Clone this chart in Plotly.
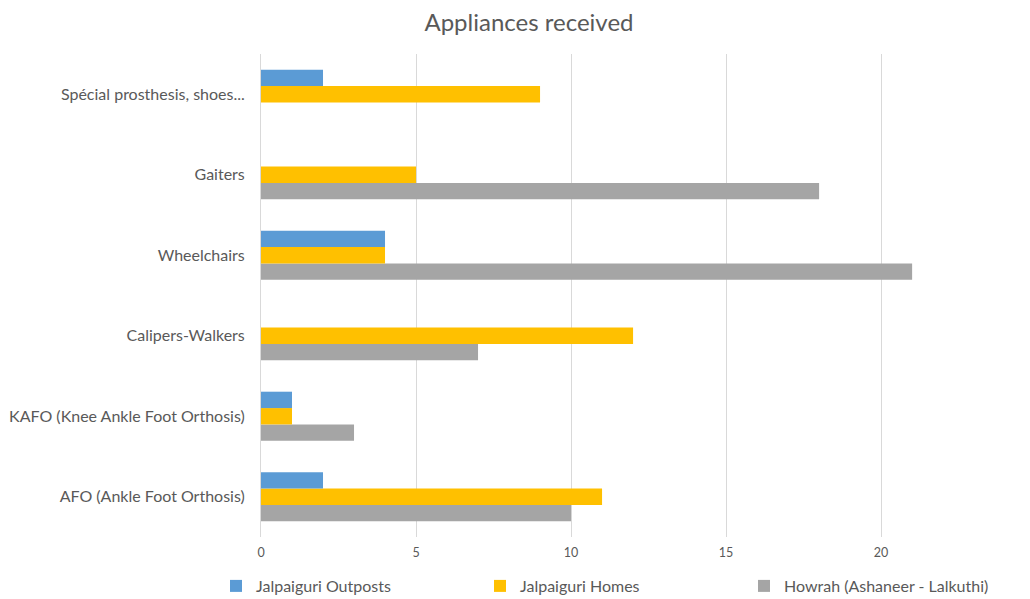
import plotly.graph_objects as go

categories = [
    "AFO (Ankle Foot Orthosis)",
    "KAFO (Knee Ankle Foot Orthosis)",
    "Calipers-Walkers",
    "Wheelchairs",
    "Gaiters",
    "Spécial prosthesis, shoes...",
]
outposts = [2, 1, 0, 4, 0, 2]
homes = [11, 1, 12, 4, 5, 9]
howrah = [10, 3, 7, 21, 18, 0]
x_ticks = [0, 5, 10, 15, 20, 25]

font_family = "Lato, Open Sans, sans-serif"
text_color = "#595959"

fig = go.Figure()
# Added bottom-to-top within each group (plotly places first trace lowest for horizontal bars)
fig.add_trace(go.Bar(y=categories, x=howrah, orientation="h", name="Howrah (Ashaneer - Lalkuthi)",
                     marker=dict(color="#a5a5a5", line=dict(width=0))))
fig.add_trace(go.Bar(y=categories, x=homes, orientation="h", name="Jalpaiguri Homes",
                     marker=dict(color="#ffc000", line=dict(width=0))))
fig.add_trace(go.Bar(y=categories, x=outposts, orientation="h", name="Jalpaiguri Outposts",
                     marker=dict(color="#5b9bd5", line=dict(width=0))))

fig.update_layout(
    width=1030, height=599,
    margin=dict(l=253, r=0, t=46, b=70, autoexpand=False),
    paper_bgcolor="white", plot_bgcolor="white",
    barmode="group", bargap=0.39, bargroupgap=0,
    title=dict(text="Appliances received", x=521/1030, xanchor="center", xref="container",
               y=1 - 15/599, yanchor="middle", yref="container",
               font=dict(family=font_family, size=24, color=text_color)),
    font=dict(family=font_family, color=text_color),
    legend=dict(orientation="h", traceorder="reversed", xref="paper", yref="paper",
                x=(208 - 253) / 777, xanchor="left", y=(529 - 578) / 483, yanchor="middle",
                entrywidth=219, entrywidthmode="pixels",
                font=dict(size=16, color=text_color), bgcolor="rgba(0,0,0,0)"),
    showlegend=True,
)
fig.update_xaxes(range=[0, 25.06], tickvals=x_ticks, showgrid=True, gridcolor="#d9d9d9", gridwidth=1,
                 zeroline=False, showline=False, ticks="", automargin=False,
                 tickfont=dict(size=12.5, color=text_color), ticklabelstandoff=6)
fig.update_yaxes(type="category", categoryorder="array", categoryarray=categories,
                 showline=True, linecolor="#d9d9d9", linewidth=1, showgrid=False, ticks="",
                 automargin=False, ticklabelstandoff=12, tickfont=dict(size=16, color=text_color))

fig.write_html("out.html")
